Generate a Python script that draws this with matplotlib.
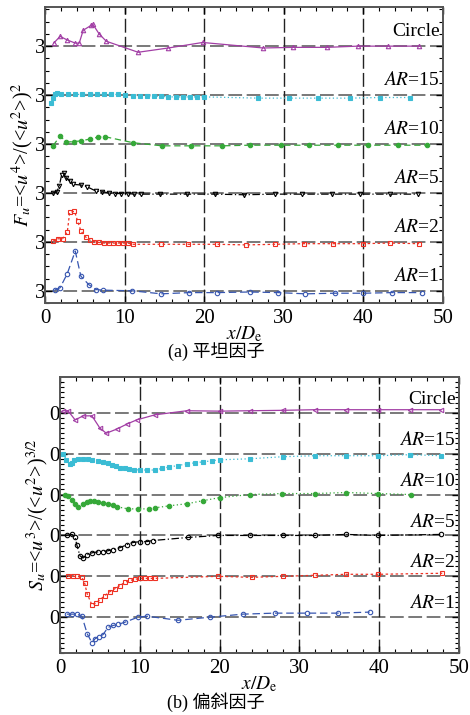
import numpy as np
import matplotlib.pyplot as plt

plt.rcParams['font.family'] = ['Liberation Serif', 'Noto Sans CJK SC']
plt.rcParams['mathtext.fontset'] = 'stix'

names = ['$AR$=1', '$AR$=2', '$AR$=5', '$AR$=10', '$AR$=15', 'Circle']
xticks = [0, 10, 20, 30, 40, 50]

# flatness factor F_u
fx_ar1 = [1.2, 1.9, 2.8, 3.8, 4.5, 5.5, 6.4, 7.3, 10.9, 14.6, 18.1, 21.6, 25.7, 29.3, 32.7, 36.4, 40.0, 43.6, 47.3]
f_ar1 = [3.05, 3.25, 4.4, 6.25, 4.2, 3.5, 3.1, 3.05, 3.0, 2.75, 2.85, 2.85, 2.9, 2.85, 2.75, 2.8, 2.8, 2.85, 2.85]
fx_ar2 = [1.0, 1.6, 2.2, 2.8, 3.1, 3.7, 4.1, 4.5, 5.1, 5.6, 6.2, 6.8, 7.4, 8.0, 8.6, 9.2, 9.8, 10.4, 11.0,
          14.6, 18.0, 21.6, 25.3, 28.9, 32.5, 36.2, 39.9, 43.3, 47.0]
f_ar2 = [3.05, 3.25, 3.25, 3.8, 5.4, 5.5, 4.7, 3.9, 3.4, 3.15, 3.0, 2.95, 2.9, 2.9, 2.9, 2.9, 2.9, 2.9, 2.8,
         2.8, 2.8, 2.8, 2.75, 2.8, 2.85, 2.85, 2.85, 2.9, 2.85]
fx_ar5 = [1.0, 1.5, 1.8, 2.1, 2.4, 2.7, 3.1, 3.5, 4.5, 5.3, 6.4, 7.2, 8.0, 8.8, 9.6, 10.4, 11.2, 12.0,
          14.5, 17.9, 21.4, 25.0, 28.9, 32.3, 36.0, 39.6, 43.3, 46.8]
f_ar5 = [3.0, 3.1, 3.6, 4.5, 4.6, 4.2, 4.0, 3.7, 3.65, 3.5, 3.15, 3.1, 3.0, 2.95, 2.95, 2.95, 2.9, 2.9,
         2.9, 2.9, 2.9, 2.85, 2.9, 2.9, 2.9, 2.9, 2.9, 2.9]
fx_ar10 = [1.0, 1.9, 2.7, 3.6, 4.5, 5.6, 6.6, 7.5, 11.1, 14.7, 18.3, 22.2, 25.7, 29.6, 33.2, 36.8, 40.6, 44.3, 48.0]
f_ar10 = [2.85, 3.65, 3.15, 3.2, 3.25, 3.4, 3.55, 3.6, 3.1, 2.85, 2.85, 2.85, 2.9, 2.9, 2.9, 2.9, 2.9, 2.9, 2.9]
fx_ar15 = [0.8, 1.0, 1.2, 1.5, 2.0, 2.9, 3.8, 4.7, 5.6, 6.5, 7.4, 8.3, 9.2, 10.1, 11.0, 11.9, 12.8, 13.7,
           14.6, 15.5, 16.4, 17.3, 18.2, 19.1, 20.0, 26.8, 30.6, 34.3, 38.3, 42.1, 45.9]
f_ar15 = [2.35, 2.75, 3.1, 3.2, 3.05, 3.05, 3.05, 3.05, 3.05, 3.05, 3.05, 3.05, 3.05, 3.0, 2.95, 2.9, 2.9, 2.9,
          2.9, 2.85, 2.85, 2.85, 2.85, 2.85, 2.85, 2.75, 2.75, 2.75, 2.75, 2.8, 2.8]
fx_circ = [1.1, 1.9, 2.8, 3.8, 4.3, 4.8, 5.8, 6.0, 6.8, 7.7, 11.7, 15.5, 19.8, 27.4, 31.2, 35.4, 39.3, 43.1, 47.0]
f_circ = [3.25, 3.8, 3.5, 3.25, 3.25, 4.3, 4.7, 4.8, 4.0, 3.4, 2.5, 2.85, 3.3, 2.85, 2.9, 2.9, 3.0, 3.0, 3.0]

# skewness factor S_u
sx_ar1 = [0.85, 1.5, 2.1, 2.75, 3.4, 4.0, 4.4, 4.9, 5.4, 6.0, 6.7, 7.25, 8.1, 9.75, 10.9, 14.8, 18.75,
          22.9, 26.9, 30.9, 34.8, 38.8]
s_ar1 = [0.15, 0.15, 0.15, 0.05, -0.8, -1.25, -1.05, -0.95, -0.85, -0.5, -0.4, -0.35, -0.25, 0.0, 0.05, -0.15, 0.0,
         0.15, 0.2, 0.2, 0.2, 0.25]
sx_ar2 = [1.0, 1.6, 2.1, 2.75, 3.1, 3.4, 4.0, 4.5, 5.0, 5.6, 6.25, 6.9, 7.5, 8.1, 8.75, 9.4, 10.0, 10.6,
          11.25, 11.9, 19.8, 24.0, 27.9, 31.9, 35.9, 39.8, 47.9]
s_ar2 = [0.0, 0.0, 0.0, -0.05, -0.35, -0.85, -1.4, -1.3, -1.15, -0.95, -0.75, -0.6, -0.45, -0.3, -0.2, -0.15, -0.1, -0.1,
         -0.1, -0.1, 0.0, -0.05, 0.0, 0.05, 0.1, 0.1, 0.15]
sx_ar5 = [0.9, 1.5, 1.9, 2.1, 2.5, 2.9, 3.4, 4.0, 4.8, 5.4, 6.0, 6.7, 7.5, 8.4, 9.1, 10.0, 10.9, 11.6,
          16.0, 19.8, 23.8, 27.9, 31.9, 35.9, 39.8, 47.8]
s_ar5 = [0.0, 0.05, -0.1, -0.45, -1.0, -1.1, -0.95, -0.85, -0.8, -0.8, -0.75, -0.7, -0.6, -0.45, -0.35, -0.3, -0.3, -0.25,
         -0.1, 0.0, 0.0, 0.0, 0.0, 0.05, 0.0, 0.05]
sx_ar10 = [0.6, 1.0, 1.5, 1.9, 2.3, 2.9, 3.4, 3.75, 4.2, 4.8, 5.4, 6.0, 6.6, 7.2, 8.5, 9.75, 11.2, 11.9,
           13.7, 15.9, 17.9, 20.0, 23.8, 27.8, 31.9, 35.9, 39.8, 44.0]
s_ar10 = [0.0, -0.05, -0.25, -0.45, -0.6, -0.45, -0.35, -0.3, -0.3, -0.35, -0.4, -0.45, -0.5, -0.6, -0.7, -0.7, -0.7, -0.65,
          -0.55, -0.45, -0.3, -0.15, 0.0, 0.05, 0.05, 0.1, 0.05, 0.0]
sx_ar15 = [0.4, 0.8, 1.25, 1.5, 1.8, 2.3, 2.9, 3.5, 4.0, 4.7, 5.4, 6.0, 6.5, 7.0, 7.5, 8.1, 8.7, 9.3, 10.0,
           10.9, 11.9, 12.8, 13.7, 14.8, 15.9, 16.9, 17.9, 19.0, 20.0, 23.8, 27.9, 31.9, 35.9, 39.8, 43.8, 47.8]
s_ar15 = [0.0, -0.3, -0.5, -0.45, -0.3, -0.25, -0.25, -0.25, -0.3, -0.35, -0.4, -0.45, -0.55, -0.6, -0.7, -0.72, -0.75, -0.78, -0.8,
          -0.8, -0.8, -0.72, -0.65, -0.58, -0.5, -0.45, -0.4, -0.35, -0.3, -0.25, -0.15, -0.1, -0.1, -0.1, -0.05, -0.1]
sx_circ = [0.4, 1.0, 1.9, 2.9, 4.0, 5.0, 5.8, 7.1, 8.4, 9.6, 11.9, 15.9, 20.0, 23.8, 27.9, 31.9, 35.9, 39.8, 43.8, 47.8]
s_circ = [0.1, 0.1, -0.35, -0.15, -0.15, -0.75, -1.0, -0.8, -0.55, -0.35, -0.1, 0.1, 0.08, 0.1, 0.12, 0.15, 0.15, 0.15,
          0.15, 0.15]

purple = '#a23ea5'
cyan = '#3bbcd4'
green = '#35a838'
red = '#ee3124'
blue = '#3756b0'

top_series = [
    (fx_ar1, f_ar1, blue, 'o', (0, (6, 3)), 'none'),
    (fx_ar2, f_ar2, red, 's', (0, (2, 2)), 'none'),
    (fx_ar5, f_ar5, 'k', 'v', (0, (6, 2, 1, 2)), 'none'),
    (fx_ar10, f_ar10, green, 'o', (0, (5, 3)), green),
    (fx_ar15, f_ar15, cyan, 's', (0, (1, 2)), cyan),
    (fx_circ, f_circ, purple, '^', '-', 'none'),
]
bottom_series = [
    (sx_ar1, s_ar1, blue, 'o', (0, (6, 3)), 'none'),
    (sx_ar2, s_ar2, red, 's', (0, (2, 2)), 'none'),
    (sx_ar5, s_ar5, 'k', 'o', (0, (6, 2, 1, 2)), 'none'),
    (sx_ar10, s_ar10, green, 'o', (0, (1, 2)), green),
    (sx_ar15, s_ar15, cyan, 's', (0, (1, 2)), cyan),
    (sx_circ, s_circ, purple, '<', '-', 'none'),
]

fig = plt.figure(figsize=(4.7, 7.15), dpi=100)
ax1 = fig.add_axes([45 / 470, 1 - 303 / 715, 398 / 470, 296 / 715])
ax2 = fig.add_axes([60 / 470, 1 - 653 / 715, 399 / 470, 276 / 715])


def draw_panel(ax, series, base, step, ylim, minor, label_txt):
    offsets = [i * step for i in range(len(series))]
    for off in offsets:
        ax.axhline(off, color='#555555', lw=1.1, ls=(0, (9, 3)), zorder=1)
    for xv in xticks[1:-1]:
        ax.axvline(xv, color='#222222', lw=1.0, ls=(0, (10, 3)), zorder=1)
    for (xs, ys, c, m, ls, fc), off, nm in zip(series, offsets, names):
        yv = np.array(ys) - base + off
        ax.plot(xs, yv, color=c, ls=ls, lw=0.9, marker=m, ms=3.2, mfc=fc, mec=c, mew=0.8, zorder=3)
        ax.text(49.6, off + 0.12 * step, nm, ha='right', va='bottom', fontsize=14)
    ax.set_xlim(0, 50)
    ax.set_ylim(*ylim)
    ax.set_xticks(xticks)
    ax.set_xticks(np.arange(0, 51, 2), minor=True)
    ax.set_yticks(offsets)
    ax.set_yticklabels([label_txt] * len(offsets))
    ax.set_yticks(np.arange(ylim[0] - ylim[0] % minor, ylim[1], minor), minor=True)
    ax.tick_params(which='both', direction='in', top=True, right=True, labelsize=15)
    ax.tick_params(which='major', length=5, width=1)
    ax.tick_params(which='minor', length=3, width=0.8)
    ax.tick_params(axis='x', pad=4)
    ax.tick_params(axis='y', pad=0)
    for sp in ax.spines.values():
        sp.set_color('#555555')
        sp.set_linewidth(1.4)


draw_panel(ax1, top_series, 3.0, 4.0, (-0.8, 23.2), 1.0, '3')
draw_panel(ax2, bottom_series, 0.0, 2.0, (-1.75, 11.75), 0.25, '0')

ax1.set_ylabel(r'$F_u$=<$u^4$>/(<$u^2$>)$^2$', fontsize=14.5, labelpad=-1)
ax2.set_ylabel(r'$S_u$=<$u^3$>/(<$u^2$>)$^{3/2}$', fontsize=14.5, labelpad=-1)
ax1.set_xlabel(r'$x/D_\mathrm{e}$', fontsize=14, labelpad=-2)
ax2.set_xlabel(r'$x/D_\mathrm{e}$', fontsize=14, labelpad=-2)

fig.text(0.46, 1 - 352 / 715, '(a) 平坦因子', ha='center', va='center', fontsize=13)
fig.text(0.46, 1 - 702 / 715, '(b) 偏斜因子', ha='center', va='center', fontsize=13)

fig.savefig('out.png', dpi=100)
